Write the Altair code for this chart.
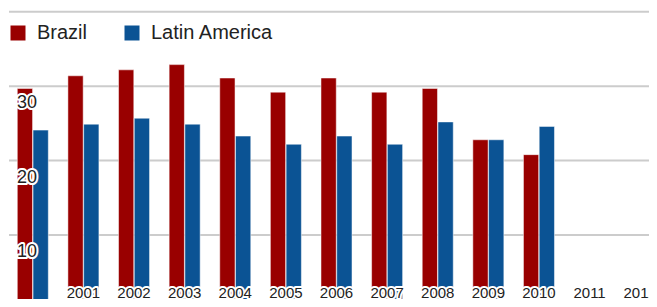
import altair as alt
import pandas as pd

years = [str(y) for y in range(2000, 2013)]
bar_years = years[:11]
label_years = years[1:]
brazil = [29.7, 31.4, 32.2, 32.9, 31.1, 29.2, 31.1, 29.2, 29.7, 22.8, 20.8]
latam = [24.1, 24.9, 25.7, 24.9, 23.3, 22.2, 23.3, 22.2, 25.2, 22.8, 24.6]
series = ["Brazil", "Latin America"]
colors = ["#990000", "#0b5394"]
grid_values = [10, 20, 30, 40]
ylabel_values = [10, 20, 30]

FONT = "Liberation Sans"
TEXT_COLOR = "#222222"

W, H = 641, 291

rows = []
for i, yr in enumerate(bar_years):
    rows.append({"year": yr, "series": series[0], "value": brazil[i]})
    rows.append({"year": yr, "series": series[1], "value": latam[i]})
bars_df = pd.DataFrame(rows)
years_df = pd.DataFrame({"year": label_years})
ylab_df = pd.DataFrame({"value": ylabel_values})
grid_df = pd.DataFrame({"value": grid_values})

xscale = alt.Scale(domain=years, range=[0, 657], paddingInner=0.387, paddingOuter=0.1835)
yscale = alt.Scale(domain=[1.40, 40.51], nice=False, zero=False)

grid = alt.Chart(grid_df).mark_rule(color="#cccccc", strokeWidth=2).encode(
    y=alt.Y("value:Q", scale=yscale, axis=None),
    x=alt.value(1),
    x2=alt.value(W),
)

bars = alt.Chart(bars_df).mark_bar(
    clip=True, stroke="white", strokeWidth=1, strokeOpacity=0.5
).encode(
    x=alt.X("year:N", scale=xscale, axis=None),
    xOffset=alt.XOffset("series:N", scale=alt.Scale(domain=series, paddingInner=0.03)),
    y=alt.Y("value:Q", scale=yscale, axis=None),
    color=alt.Color(
        "series:N",
        scale=alt.Scale(domain=series, range=colors),
        legend=alt.Legend(
            orient="none", legendX=0, legendY=15, direction="horizontal", title=None,
            symbolType="square", symbolSize=225, symbolStrokeWidth=0, symbolOpacity=1,
            labelFontSize=20, labelFont=FONT, labelColor=TEXT_COLOR, labelOffset=9,
            columnPadding=34, padding=0,
        ),
    ),
)

def xlabels(halo):
    kw = dict(align="center", baseline="middle", fontSize=15, font=FONT, color=TEXT_COLOR)
    if halo:
        kw.update(stroke="white", strokeWidth=4, strokeJoin="round", color="white")
    return alt.Chart(years_df).mark_text(**kw).encode(
        x=alt.X("year:N", scale=xscale, axis=None),
        y=alt.value(284.5),
        text="year:N",
    )

def ylabels(halo):
    kw = dict(align="left", baseline="middle", dy=17, fontSize=18, font=FONT, color=TEXT_COLOR)
    if halo:
        kw.update(stroke="white", strokeWidth=4, strokeJoin="round", color="white")
    return alt.Chart(ylab_df).mark_text(**kw).encode(
        x=alt.value(9),
        y=alt.Y("value:Q", scale=yscale, axis=None),
        text="value:Q",
    )

chart = alt.layer(
    grid, bars, xlabels(True), xlabels(False), ylabels(True), ylabels(False)
).properties(
    width=W, height=H, autosize=alt.AutoSizeParams(type="none"), padding=0
).configure_view(stroke=None)

chart.save("out.html", embed_options={"renderer": "svg", "actions": False})
